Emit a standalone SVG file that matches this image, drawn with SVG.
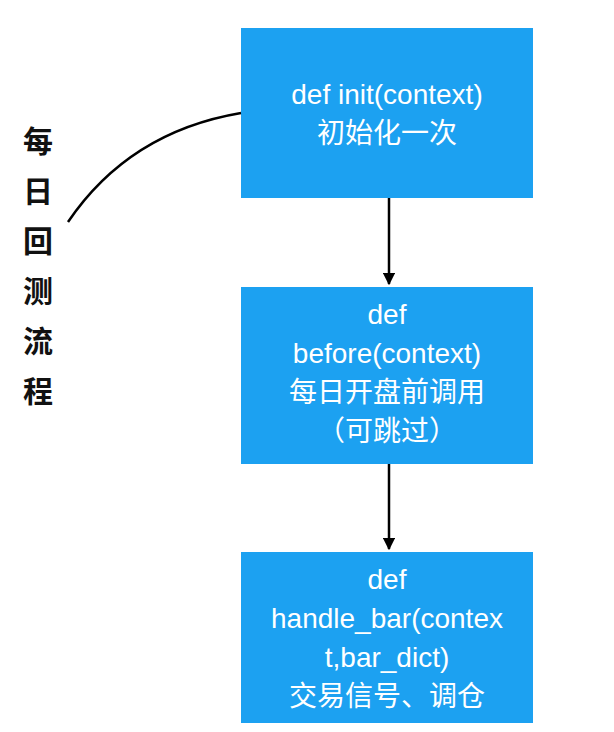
<svg xmlns="http://www.w3.org/2000/svg" width="614" height="732" viewBox="0 0 614 732">
<style>
.box{fill:#1ca1f1}
.t{font-family:"Liberation Sans","Noto Sans CJK SC",sans-serif;font-size:28px;fill:#fff;text-anchor:middle}
.side{font-family:"Noto Sans CJK SC",sans-serif;font-size:30px;font-weight:bold;fill:#111;text-anchor:middle}
.c{stroke:#000;stroke-width:2.5;fill:none}
</style>
<defs><marker id="a" viewBox="0 0 10 10" refX="9" refY="5" markerWidth="5" markerHeight="5" orient="auto"><path d="M0,0L10,5L0,10z" fill="#000"/></marker></defs>
<rect width="614" height="732" fill="#fff"/>
<g id="n1"><rect class="box" x="241" y="28" width="292" height="170"/>
<text class="t" x="387" y="104">def  init(context)</text><text class="t" x="387" y="143">初始化一次</text></g>
<g id="n2"><rect class="box" x="241" y="287" width="292" height="177"/>
<text class="t" x="387" y="324">def</text><text class="t" x="387" y="363">before(context)</text><text class="t" x="387" y="402">每日开盘前调用</text><text class="t" x="387" y="441">（可跳过）</text></g>
<g id="n3"><rect class="box" x="241" y="552" width="292" height="171"/>
<text class="t" x="387" y="589">def</text><text class="t" x="387" y="628">handle_bar(contex</text><text class="t" x="387" y="667">t,bar_dict)</text><text class="t" x="387" y="706">交易信号、调仓</text></g>
<g id="label"><text class="side" x="38" y="152">每</text><text class="side" x="38" y="202">日</text><text class="side" x="38" y="252">回</text><text class="side" x="38" y="302">测</text><text class="side" x="38" y="352">流</text><text class="side" x="38" y="402">程</text></g>
<g id="connectors">
<path class="c" d="M389,198V284" marker-end="url(#a)"/>
<path class="c" d="M389,464V549" marker-end="url(#a)"/>
<path class="c" d="M241,113C170,125 110,160 68,222"/>
</g>
</svg>
